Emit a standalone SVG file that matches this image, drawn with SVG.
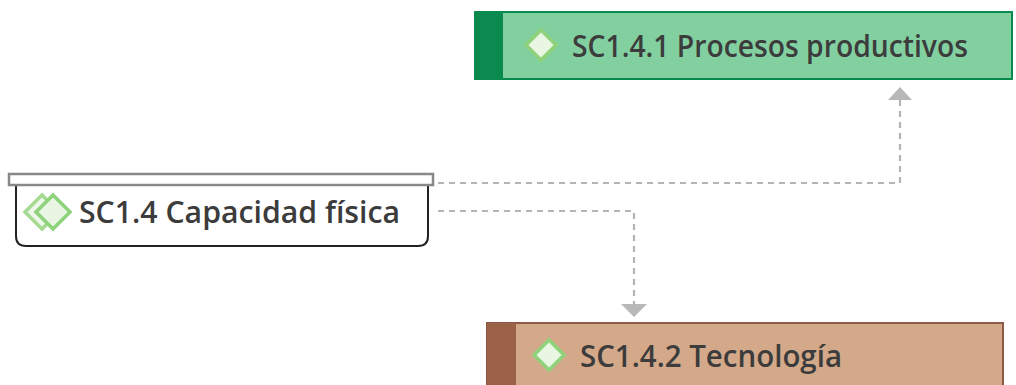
<svg xmlns="http://www.w3.org/2000/svg" width="1016" height="385" viewBox="0 0 1016 385">
<defs>
<style>
.lbl{font-family:"Open Sans","Noto Sans","Liberation Sans",sans-serif;font-weight:600;font-size:30px;fill:#3c3c3c}
.conn{fill:none;stroke:#b4b4b4;stroke-width:2.2;stroke-dasharray:6 5}
.head{fill:#b8b8b8}
.dia{fill:#eaf6e4;stroke:#8ed27a;stroke-width:3.5}
</style>
</defs>
<rect width="1016" height="385" fill="#ffffff"/>
<g id="connectors">
<path class="conn" d="M438 183 H900 V100"/>
<polygon class="head" points="900,87 888,100 912,100"/>
<path class="conn" d="M438 211 H634 V304"/>
<polygon class="head" points="634,317 621,304 647,304"/>
</g>
<g id="node-sc141">
<rect x="475" y="12" width="537" height="67" fill="#82d0a0" stroke="#0b8a50" stroke-width="2"/>
<rect x="475" y="12" width="28" height="67" fill="#0b8a50"/>
<polygon class="dia" points="541,30 556,45 541,60 526,45"/>
<text class="lbl" x="572" y="57" textLength="396" lengthAdjust="spacingAndGlyphs">SC1.4.1 Procesos productivos</text>
</g>
<g id="node-sc14">
<path d="M16 185 V236 Q16 246 26 246 H418 Q428 246 428 236 V185" fill="#ffffff" stroke="#222222" stroke-width="2"/>
<rect x="9" y="174" width="424" height="11" fill="#ffffff" stroke="#888888" stroke-width="2.5"/>
<polygon class="dia" points="42,195 59,212 42,229 25,212" opacity="0.8"/>
<polygon class="dia" points="53,195 70,212 53,229 36,212"/>
<text class="lbl" x="79" y="223" textLength="321" lengthAdjust="spacingAndGlyphs">SC1.4 Capacidad física</text>
</g>
<g id="node-sc142">
<rect x="487" y="323" width="516" height="80" fill="#d4a98a" stroke="#8c5a44" stroke-width="2"/>
<rect x="487" y="323" width="29" height="80" fill="#9c6149"/>
<polygon class="dia" points="549,340 564,355 549,370 534,355"/>
<text class="lbl" x="580" y="367" textLength="262" lengthAdjust="spacingAndGlyphs">SC1.4.2 Tecnología</text>
</g>
</svg>
